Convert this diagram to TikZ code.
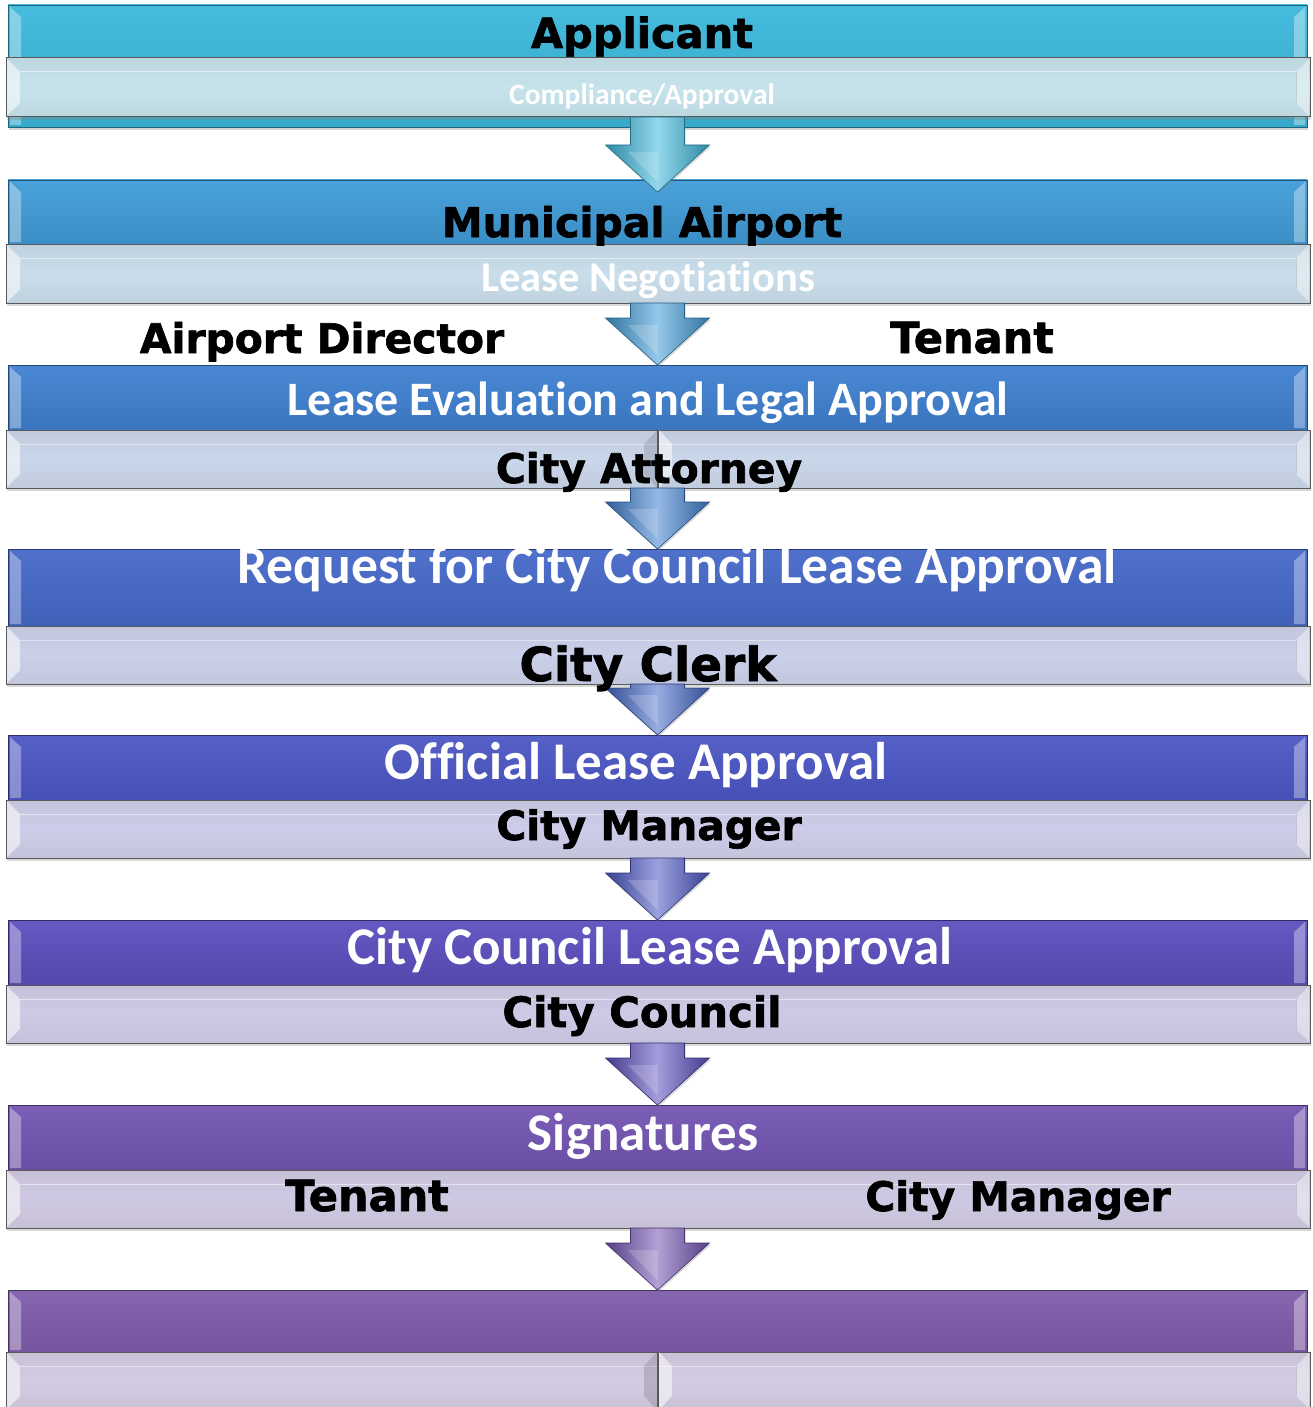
\documentclass[tikz,border=0pt]{standalone}
\usepackage{fontspec}
\usetikzlibrary{shadows,calc}
\newfontfamily\dvb{DejaVu Sans Bold}[FakeBold=1.6]
\newfontfamily\clb{Carlito}[Ligatures=NoCommon]
\definecolor{ca}{HTML}{3BB7DB}\definecolor{la}{HTML}{C6E3EC}
\definecolor{cb}{HTML}{3F9BD7}\definecolor{lb}{HTML}{C9DDEB}
\definecolor{cc}{HTML}{3F80D0}\definecolor{lc}{HTML}{CAD6EA}
\definecolor{cd}{HTML}{4568C8}\definecolor{ld}{HTML}{CBD0EA}
\definecolor{ce}{HTML}{4B56C4}\definecolor{le}{HTML}{CDCDE9}
\definecolor{cf}{HTML}{5B4EBE}\definecolor{lf}{HTML}{CECAE6}
\definecolor{cg}{HTML}{7354B2}\definecolor{lg}{HTML}{D0C9E3}
\definecolor{ch}{HTML}{7F5CAB}\definecolor{lh}{HTML}{D3CBE2}
\tikzset{
  colbar/.style={rectangle, inner sep=0pt, outer sep=0pt, minimum width=1299pt,
    draw=#1!55!black, line width=0.7pt, top color=#1!94!white, bottom color=#1!92!black,
    drop shadow={opacity=0.35, shadow xshift=1pt, shadow yshift=-3pt}},
  litbar/.style={rectangle, inner sep=0pt, outer sep=0pt, minimum width=1304pt, minimum height=58pt,
    draw=black!65, line width=1pt, top color=#1!88!gray, bottom color=#1!88!gray, middle color=#1,
    drop shadow={opacity=0.3, shadow xshift=1pt, shadow yshift=-3pt}},
  blk/.style={font=\dvb\fontsize{#1}{#1}\selectfont, text=black, anchor=base, inner sep=0pt},
  wht/.style={font=\clb\bfseries\fontsize{#1}{#1}\selectfont, text=white, anchor=base, inner sep=0pt},
}
\newcommand\colbevel[1]{%
  \fill[white,opacity=0.35] ([shift={(2,2)}]#1.north west) -- ([shift={(13,12)}]#1.north west)
     -- ([shift={(13,-2)}]#1.south west) -- ([shift={(2,-2)}]#1.south west) -- cycle;
  \fill[white,opacity=0.35] ([shift={(-2,2)}]#1.north east) -- ([shift={(-13,12)}]#1.north east)
     -- ([shift={(-13,-2)}]#1.south east) -- ([shift={(-2,-2)}]#1.south east) -- cycle;}
\newcommand\litbevel[1]{%
  \fill[white,opacity=0.55] ([shift={(1,1)}]#1.north west) -- ([shift={(14,14)}]#1.north west)
     -- ([shift={(14,-14)}]#1.south west) -- ([shift={(1,-1)}]#1.south west) -- cycle;
  \fill[white,opacity=0.4] ([shift={(-1,1)}]#1.north east) -- ([shift={(-14,14)}]#1.north east)
     -- ([shift={(-14,-14)}]#1.south east) -- ([shift={(-1,-1)}]#1.south east) -- cycle;
  \draw[black,opacity=0.12,line width=1pt] ([shift={(-14,14)}]#1.north east) -- ([shift={(-14,-14)}]#1.south east);
  \draw[white,opacity=0.5,line width=1pt] ([shift={(14,14)}]#1.north west) -- ([shift={(-14,14)}]#1.north east);}
\newcommand\flowarrow[3]{%
  \shade[left color=#3!75!black, right color=#3!75!black, middle color=#3!55!white,
     draw=#3!60!black, line width=0.6pt,
     drop shadow={opacity=0.3, shadow xshift=1pt, shadow yshift=-2pt}]
   let \p1=(#1), \p2=(#2) in
   (\x2-27pt,\y1) -- (\x2+27pt,\y1) -- (\x2+27pt,\y2+47pt) -- (\x2+52pt,\y2+47pt)
   -- (\x2,\y2) -- (\x2-52pt,\y2+47pt) -- (\x2-27pt,\y2+47pt) -- cycle;
  \fill[white,opacity=0.18] let \p1=(#1), \p2=(#2) in
   (\x2,\y2+10pt) -- (\x2-30pt,\y2+40pt) -- (\x2,\y2+40pt) -- cycle;}
\begin{document}
\begin{tikzpicture}[x=1pt,y=-1pt]
\useasboundingbox (0,0) rectangle (1312,1407);
% coloured bars
\node[colbar=ca, minimum height=122pt] (b1) at (657.5,66) {};
\node[colbar=cb, minimum height=64pt] (b2) at (657.5,212) {};
\node[colbar=cc, minimum height=65pt] (b3) at (657.5,397.5) {};
\node[colbar=cd, minimum height=77pt] (b4) at (657.5,587.5) {};
\node[colbar=ce, minimum height=65pt] (b5) at (657.5,767.5) {};
\node[colbar=cf, minimum height=65pt] (b6) at (657.5,952.5) {};
\node[colbar=cg, minimum height=65pt] (b7) at (657.5,1137.5) {};
\node[colbar=ch, minimum height=62pt] (b8) at (657.5,1321) {};
\foreach \b in {b1,b2,b3,b4,b5,b6,b7,b8} {\colbevel{\b}}
% light bands
\node[litbar=la, minimum height=59pt] (l1) at (658,87.5) {};
\node[litbar=lb, minimum height=59pt] (l2) at (658,273.5) {};
\node[litbar=lc] (l3) at (658,459) {};
\node[litbar=ld] (l4) at (658,655) {};
\node[litbar=le] (l5) at (658,829) {};
\node[litbar=lf] (l6) at (658,1014) {};
\node[litbar=lg] (l7) at (658,1199) {};
\node[litbar=lh] (l8) at (658,1381) {};
\foreach \l in {l1,l2,l3,l4,l5,l6,l7,l8} {\litbevel{\l}}
% splits
\foreach \l in {l3,l8} {
  \fill[black,opacity=0.12] ([xshift=-14pt,yshift=-14pt]\l.north) -- ([xshift=-1pt]\l.north) -- ([xshift=-1pt]\l.south) -- ([xshift=-14pt,yshift=14pt]\l.south) -- cycle;
  \fill[white,opacity=0.55] ([xshift=14pt,yshift=-14pt]\l.north) -- ([xshift=1pt]\l.north) -- ([xshift=1pt]\l.south) -- ([xshift=14pt,yshift=14pt]\l.south) -- cycle;
  \draw[black!65,line width=1.2pt] (\l.north) -- (\l.south);
}
% arrows
\coordinate (tip1) at ($(b2.north)+(0,12)$);
\flowarrow{l1.south}{tip1}{ca}
\flowarrow{l2.south}{b3.north}{cb}
\flowarrow{l3.south}{b4.north}{cc}
\flowarrow{l4.south}{b5.north}{cd}
\flowarrow{l5.south}{b6.north}{ce}
\flowarrow{l6.south}{b7.north}{cf}
\flowarrow{l7.south}{b8.north}{cg}
% texts
\node[blk=41.5] (t1) at (642,48) {Applicant};
\node[wht=29.5] (t2) at (642,105) {Compliance/Approval};
\node[blk=41] (t3) at (642,237) {Municipal Airport};
\node[wht=42.5] (t4) at (648,291) {Lease Negotiations};
\node[blk=40.8] (t5) at (322,353) {Airport Director};
\node[blk=43] (t6) at (972,353) {Tenant};
\node[wht=48] (t7) at (648,415) {Lease Evaluation and Legal Approval};
\node[blk=40.8] (t8) at (649,483) {City Attorney};
\node[wht=53.6] (t9) at (677,583) {Request for City Council Lease Approval};
\node[blk=47] (t10) at (648,681) {City Clerk};
\node[wht=53] (t11) at (636,779) {Official Lease Approval};
\node[blk=40.7] (t12) at (649,840) {City Manager};
\node[blk=41.8] (t14) at (642,1027) {City Council};
\node[wht=53] (t13) at (650,964) {City Council Lease Approval};
\node[wht=53] (t15) at (643,1150) {Signatures};
\node[blk=43] (t16) at (367,1211) {Tenant};
\node[blk=40.7] (t17) at (1018,1211) {City Manager};
\end{tikzpicture}
\end{document}
